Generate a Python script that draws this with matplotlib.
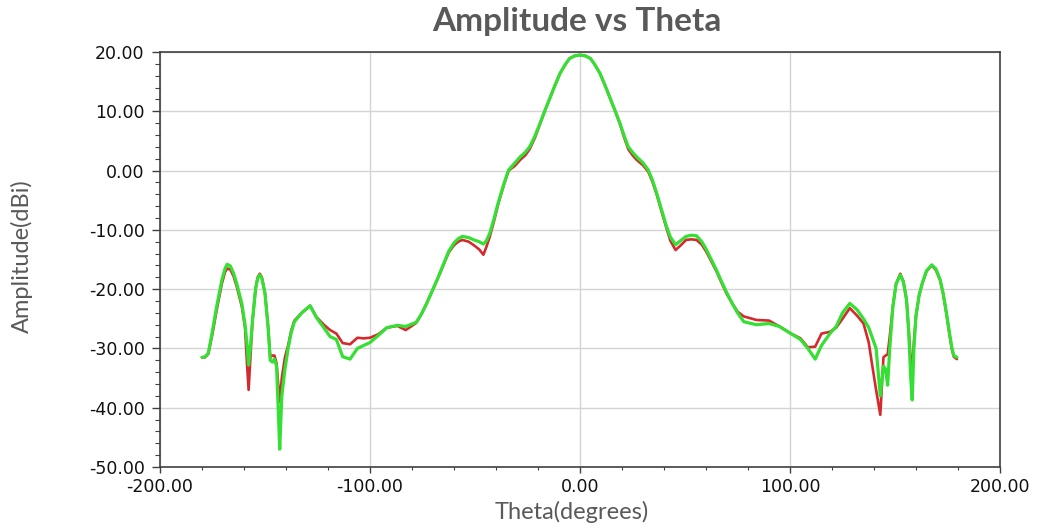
import matplotlib
matplotlib.use("Agg")
import matplotlib.pyplot as plt
from matplotlib.ticker import MultipleLocator, FormatStrFormatter

theta = [-180, -178.5, -177, -175, -173, -170.5, -169, -168, -166.5, -165,
         -163.5, -161, -159.5, -158.5, -157.8, -157, -156, -154.5, -153.5, -152.5,
         -151.5, -150, -148.5, -147.5, -146.5, -145.5, -144.5, -143.5, -143, -142,
         -140.5, -139, -137.5, -136, -132.5, -128.5, -125.5, -122, -119, -116,
         -113, -109.5, -106, -103, -100, -96, -92, -87, -83, -78,
         -75.5, -73, -70.5, -68, -65, -62.5, -60, -58, -56, -53,
         -50.5, -48, -46, -44.5, -43, -41, -39, -36.5, -34, -31,
         -28.5, -26, -24, -21.5, -19, -16.5, -14, -12, -9.5, -7,
         -5, -2.5, 0, 2.5, 5, 7, 9.5, 12, 14, 16.5,
         19, 21, 23, 25, 27, 30, 32.5, 34.5, 36.5, 39,
         41, 43, 45.5, 48, 50.5, 53, 55.5, 58, 60, 62.5,
         65, 67.5, 70, 72.5, 75, 78, 84, 90, 95, 100,
         105, 108.5, 112, 115, 119, 122, 125, 128.5, 132, 135,
         137.5, 139, 141, 143, 144.5, 145.5, 146.5, 147.5, 149, 150.5,
         152.5, 154, 155.5, 156.5, 157.5, 158.2, 159, 160, 161.5, 163,
         165, 167.5, 169.5, 171.5, 173, 174.5, 176, 177, 178, 179.5]

amp_green = [-31.5, -31.4, -30.8, -27.0, -22.9, -18.4, -16.5, -15.8, -16.1, -17.3,
             -19.0, -22.5, -26.0, -29.5, -32.8, -30.0, -25.5, -20.0, -18.2, -17.6,
             -18.2, -20.7, -26.5, -32.0, -32.3, -31.8, -33.0, -42.0, -47.0, -38.0,
             -33.5, -30.0, -27.3, -25.5, -24.0, -22.8, -24.8, -26.5, -28.0, -28.5,
             -31.4, -31.8, -30.0, -29.5, -29.0, -27.8, -26.5, -26.1, -26.3, -25.6,
             -24.2, -22.4, -20.4, -18.4, -15.8, -13.6, -12.2, -11.5, -11.1, -11.3,
             -11.7, -12.0, -12.4, -11.8, -10.6, -8.2, -5.5, -2.5, 0.1, 1.3,
             2.3, 3.1, 4.0, 5.8, 8.0, 10.3, 12.5, 14.3, 16.4, 17.9,
             18.9, 19.35, 19.5, 19.35, 18.9, 17.9, 16.4, 14.3, 12.5, 10.3,
             8.0, 5.9, 4.0, 3.1, 2.3, 1.3, 0.1, -1.6, -3.8, -6.8,
             -9.2, -11.2, -12.5, -11.8, -11.1, -10.9, -11.0, -12.0, -13.2, -15.0,
             -16.8, -18.8, -20.7, -22.4, -24.0, -25.5, -26.0, -25.8, -26.3, -27.4,
             -28.5, -30.0, -31.8, -29.5, -27.5, -26.3, -24.0, -22.4, -23.5, -25.0,
             -26.5, -28.0, -30.0, -38.0, -33.0, -33.5, -36.2, -30.0, -22.9, -19.2,
             -17.6, -18.8, -21.8, -27.0, -35.0, -38.7, -30.0, -24.5, -21.0, -19.0,
             -16.9, -15.9, -16.6, -18.4, -20.8, -24.0, -27.5, -29.7, -31.2, -31.5]

amp_red = [-31.5, -31.5, -30.9, -27.5, -23.5, -19.0, -17.1, -16.5, -16.7, -17.8,
           -19.5, -23.0, -26.5, -33.0, -37.0, -32.0, -25.5, -20.0, -18.0, -17.4,
           -18.0, -20.7, -26.5, -31.5, -31.2, -31.2, -32.5, -37.0, -39.0, -35.0,
           -31.5, -29.5, -27.0, -25.3, -24.0, -22.8, -24.7, -26.0, -26.9, -27.5,
           -29.1, -29.3, -28.2, -28.3, -28.2, -27.6, -26.5, -26.2, -26.9, -25.7,
           -24.2, -22.4, -20.4, -18.4, -15.9, -13.8, -12.6, -12.0, -11.7, -12.0,
           -12.6, -13.3, -14.2, -12.8, -11.2, -8.6, -5.7, -2.7, 0.0, 0.8,
           1.8, 2.6, 3.6, 5.5, 7.9, 10.3, 12.5, 14.3, 16.4, 17.9,
           18.9, 19.35, 19.5, 19.35, 18.9, 17.9, 16.4, 14.3, 12.5, 10.3,
           7.9, 5.6, 3.6, 2.6, 1.8, 0.9, -0.2, -1.9, -4.0, -7.1,
           -9.5, -11.8, -13.4, -12.6, -11.7, -11.6, -11.7, -12.5, -13.6, -15.3,
           -17.0, -19.0, -20.9, -22.4, -23.8, -24.6, -25.2, -25.3, -26.3, -27.4,
           -28.3, -29.8, -29.7, -27.5, -27.2, -26.5, -25.0, -23.2, -24.5, -25.8,
           -29.0, -32.5, -37.0, -41.2, -31.5, -31.2, -31.0, -28.0, -22.9, -19.1,
           -17.4, -18.7, -21.8, -27.0, -32.0, -34.0, -29.0, -24.5, -21.0, -19.0,
           -17.0, -16.0, -16.8, -18.5, -21.0, -24.2, -27.8, -30.0, -31.4, -31.8]

title_text = "Amplitude vs Theta"
x_label = "Theta(degrees)"
y_label = "Amplitude(dBi)"

fig = plt.figure(figsize=(10.37, 5.32), dpi=100)
ax = fig.add_axes([160/1037, 1 - 467/532, 840/1037, 415/532])

ax.plot(theta, amp_red, color="#d42a2e", lw=1.9, zorder=3,
        solid_joinstyle="round", solid_capstyle="round")
ax.plot(theta, amp_green, color="#33e033", lw=2.3, zorder=4,
        solid_joinstyle="round", solid_capstyle="round")

ax.set_xlim(-200, 200)
ax.set_ylim(-50, 20)
ax.xaxis.set_major_locator(MultipleLocator(100))
ax.xaxis.set_minor_locator(MultipleLocator(20))
ax.yaxis.set_major_locator(MultipleLocator(10))
ax.yaxis.set_minor_locator(MultipleLocator(2))
ax.xaxis.set_major_formatter(FormatStrFormatter("%.2f"))
ax.yaxis.set_major_formatter(FormatStrFormatter("%.2f"))

ax.grid(True, which="major", color="#d4d4d4", lw=1.0, zorder=0)
ax.set_axisbelow(True)

for s in ax.spines.values():
    s.set_color("#404040")
    s.set_linewidth(1.2)

ax.tick_params(axis="x", which="major", direction="out", length=4, width=1, color="#404040",
               labelsize=12.5, pad=4, labelcolor="#111111")
ax.tick_params(axis="x", which="minor", direction="out", length=2.5, width=0.8, color="#404040")
ax.tick_params(axis="y", which="major", direction="out", length=6, width=1, color="#404040",
               labelsize=12.5, pad=5, labelcolor="#111111")
ax.tick_params(axis="y", which="minor", direction="out", length=3.5, width=0.8, color="#404040")

fig.text(577/1037, 1 - 22/532, title_text, ha="center", va="center",
         fontsize=24, fontweight="bold", color="#595959", family=["Lato", "DejaVu Sans"])
fig.text(572/1037, 1 - 512/532, x_label, ha="center", va="center",
         fontsize=17, color="#595959", family=["Lato", "DejaVu Sans"])
fig.text(22/1037, 1 - 256/532, y_label, ha="center", va="center", rotation=90,
         fontsize=17, color="#595959", family=["Lato", "DejaVu Sans"])

fig.savefig("out.png", dpi=100)
